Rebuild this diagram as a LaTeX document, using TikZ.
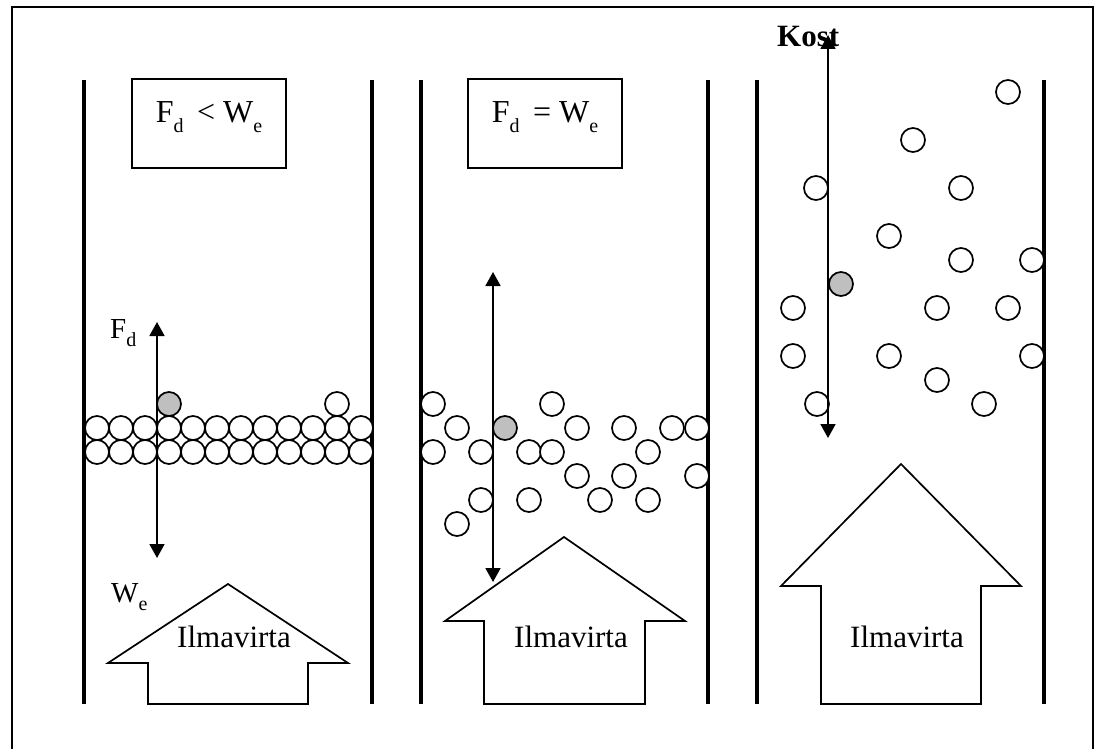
\documentclass[tikz,border=0pt]{standalone}
\usepackage{fontspec}
\setmainfont{Liberation Serif}
\usetikzlibrary{arrows.meta}
\newcommand{\lowsub}[1]{\raisebox{-0.3em}{\fontsize{20}{20}\selectfont #1}}
\begin{document}
\begin{tikzpicture}[x=1pt,y=-1pt,
  wall/.style={line width=3.3pt},
  part/.style={line width=1.7pt, fill=white},
  grey/.style={line width=1.7pt, fill=black!25},
  force/.style={line width=1.8pt, {Triangle[length=14pt,width=15pt]}-{Triangle[length=14pt,width=15pt]}},
  eqbox/.style={draw, line width=1.7pt, minimum width=154pt, minimum height=89pt, inner sep=0pt},
  house/.style={draw, line width=1.7pt, line join=miter},
  lbl/.style={font=\fontsize{31}{36}\selectfont, inner sep=0pt},
  boxtxt/.style={font=\fontsize{32}{36}\selectfont, inner sep=0pt, anchor=base},
  flbl/.style={font=\fontsize{29}{32}\selectfont, inner sep=0pt, anchor=base west}]
\useasboundingbox (0,0) rectangle (1098,749);
\fill[white] (0,0) rectangle (1098,749);
% outer frame (bottom edge off page)
\draw[line width=2.4pt] (12,760) -- (12,7) -- (1093,7) -- (1093,760);

% walls
\foreach \wx in {84,372,421,708,757,1044}
  \draw[wall] (\wx,80) -- (\wx,704);

% boxes
\node[eqbox] (b1) at (209,123.5) {};
\node[boxtxt] (t1) at (209,123) {F\lowsub{d}\, < W\lowsub{e}};
\node[eqbox] (b2) at (545,123.5) {};
\node[boxtxt] (t2) at (545,123) {F\lowsub{d}\, = W\lowsub{e}};

% ---------- panel 1: packed bed ----------
\foreach \i in {0,...,11} {
  \draw[part] (97+24*\i,428) circle (12);
  \draw[part] (97+24*\i,452) circle (12);
}
\draw[part] (337,404) circle (12);
\draw[grey] (169,404) circle (12);
\coordinate (a1t) at (157,322);
\coordinate (a1b) at (157,558);
\draw[force] (a1b) -- (a1t);
\node[flbl] (fd1) at (110,338) {F\lowsub{d}};
\node[flbl] (we1) at (111,602) {W\lowsub{e}};

% house arrow 1
\draw[house] (228,584) -- (348,663) -- (308,663) -- (308,704) -- (148,704) -- (148,663) -- (108,663) -- cycle;
\node[lbl, anchor=base] (il1) at (234,647) {Ilmavirta};

% ---------- panel 2: fluidised ----------
\foreach \p in {(433,404),(552,404),(457,428),(577,428),(624,428),(672,428),(697,428),
  (433,452),(481,452),(529,452),(552,452),(648,452),(577,476),(624,476),(697,476),
  (481,500),(529,500),(600,500),(648,500),(457,524)}
  \draw[part] \p circle (12);
\draw[grey] (505,428) circle (12);
\coordinate (a2t) at (493,272);
\coordinate (a2b) at (493,582);
\draw[force] (a2b) -- (a2t);
\draw[house] (564,537) -- (685,621) -- (645,621) -- (645,704) -- (484,704) -- (484,621) -- (445,621) -- cycle;
\node[lbl, anchor=base] (il2) at (571,647) {Ilmavirta};

% ---------- panel 3: transport ----------
\foreach \p in {(1008,92),(913,140),(816,188),(961,188),(889,236),(961,260),(1032,260),
  (793,308),(937,308),(1008,308),(793,356),(889,356),(1032,356),(937,380),(984,404),(817,404)}
  \draw[part] \p circle (12);
\draw[grey] (841,284) circle (12);
\draw[house] (901,464) -- (1021,586) -- (981,586) -- (981,704) -- (821,704) -- (821,586) -- (781,586) -- cycle;
\node[lbl, anchor=base] (il3) at (907,647) {Ilmavirta};
\begin{scope}
  \clip (770,10) rectangle (842,70);
  \node[font=\fontsize{31}{36}\selectfont\bfseries, inner sep=0pt, anchor=base west] (kost) at (777,47) {Kost};
\end{scope}
\coordinate (a3t) at (828,35);
\coordinate (a3b) at (828,438);
\draw[force] (a3b) -- (a3t);
\end{tikzpicture}
\end{document}
